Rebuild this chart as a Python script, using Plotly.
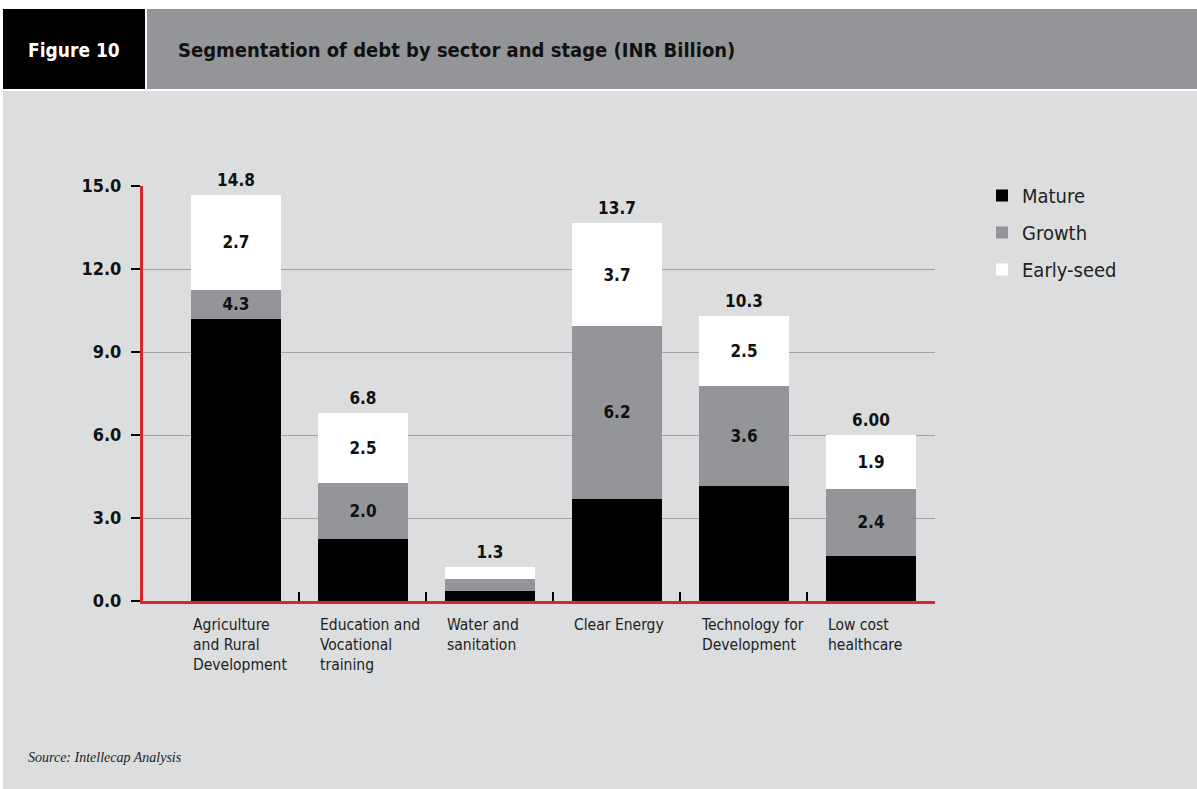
import plotly.graph_objects as go

# Data (INR Billion)
sectors = ["Agriculture<br>and Rural<br>Development", "Education and<br>Vocational<br>training",
           "Water and<br>sanitation", "Clear Energy", "Technology for<br>Development",
           "Low cost<br>healthcare"]
mature = [10.2, 2.24, 0.36, 3.69, 4.16, 1.63]
growth = [1.05, 2.02, 0.44, 6.25, 3.61, 2.42]
early_seed = [3.43, 2.53, 0.43, 3.72, 2.53, 1.95]

# Labels as printed on the chart
growth_labels = ["4.3", "2.0", "", "6.2", "3.6", "2.4"]
early_labels = ["2.7", "2.5", "", "3.7", "2.5", "1.9"]
total_labels = ["14.8", "6.8", "1.3", "13.7", "10.3", "6.00"]

y_ticks = [0, 3, 6, 9, 12, 15]

FONT = "DejaVu Sans Condensed, Liberation Sans Narrow, Roboto, sans-serif"
BG = "#dcdddf"
HEADER_GRAY = "#939598"
GROWTH_GRAY = "#939598"

W, H = 1197, 789
L, R, T, B = 143, 262, 186, 188
pw, ph = W - L - R, H - T - B


def px(x):
    return (x - L) / pw


def py(y):
    return (H - B - y) / ph


xs = list(range(len(sectors)))
bar_w = 0.709

fig = go.Figure()

fig.add_trace(go.Bar(x=xs, y=mature, width=bar_w, name="Mature",
                     marker=dict(color="#000000", line=dict(width=0)),
                     legendgroup="m"))
fig.add_trace(go.Bar(x=xs, y=growth, width=bar_w, name="Growth",
                     marker=dict(color=GROWTH_GRAY, line=dict(width=0)),
                     text=growth_labels, textposition="inside", insidetextanchor="middle",
                     textfont=dict(family=FONT, size=17, color="#111111", weight="bold"),
                     legendgroup="g"))
fig.add_trace(go.Bar(x=xs, y=early_seed, width=bar_w, name="Early-seed",
                     marker=dict(color="#ffffff", line=dict(width=0)),
                     text=early_labels, textposition="inside", insidetextanchor="middle",
                     textfont=dict(family=FONT, size=17, color="#111111", weight="bold"),
                     legendgroup="e"))

totals = [m + g + e for m, g, e in zip(mature, growth, early_seed)]
fig.add_trace(go.Scatter(x=xs, y=totals, mode="markers+text", text=total_labels,
                         textposition="top center", showlegend=False,
                         marker=dict(size=6, color="rgba(0,0,0,0)"),
                         hoverinfo="skip",
                         textfont=dict(family=FONT, size=17, color="#111111", weight="bold"),
                         cliponaxis=False))

# category labels, left aligned under each bar
for i, lab in enumerate(sectors):
    fig.add_annotation(x=i - bar_w / 2, y=0, xref="x", yref="y", text=lab,
                       xanchor="left", yanchor="top", align="left", showarrow=False,
                       yshift=-13, font=dict(family=FONT, size=15.5, color="#222222"))

shapes = [
    dict(type="rect", xref="paper", yref="paper", x0=px(0), x1=px(W), y0=py(0), y1=py(91),
         fillcolor="#ffffff", line=dict(width=0), layer="below"),
    dict(type="rect", xref="paper", yref="paper", x0=px(0), x1=px(3), y0=py(0), y1=py(H),
         fillcolor="#ffffff", line=dict(width=0), layer="below"),
    dict(type="rect", xref="paper", yref="paper", x0=px(3), x1=px(145), y0=py(9), y1=py(89),
         fillcolor="#000000", line=dict(width=0), layer="below"),
    dict(type="rect", xref="paper", yref="paper", x0=px(147), x1=px(W), y0=py(9), y1=py(89),
         fillcolor=HEADER_GRAY, line=dict(width=0), layer="below"),
]

fig.add_annotation(xref="paper", yref="paper", x=px(74), y=py(50), text="<b>Figure 10</b>",
                   showarrow=False, xanchor="center", yanchor="middle",
                   font=dict(family=FONT, size=19, color="#ffffff"))
fig.add_annotation(xref="paper", yref="paper", x=px(176), y=py(50),
                   text="<b>Segmentation of debt by sector and stage (INR Billion)</b>",
                   showarrow=False, xanchor="left", yanchor="middle",
                   font=dict(family=FONT, size=20, color="#111111"))
fig.add_annotation(xref="paper", yref="paper", x=px(26), y=py(757),
                   text="<i>Source: Intellecap Analysis</i>",
                   showarrow=False, xanchor="left", yanchor="middle",
                   font=dict(family="Liberation Serif, serif", size=14, color="#222222"))

fig.update_layout(
    width=W, height=H,
    barmode="stack", bargap=0.29,
    paper_bgcolor=BG, plot_bgcolor=BG,
    margin=dict(l=L, r=R, t=T, b=B, pad=0),
    shapes=shapes,
    showlegend=True,
    legend=dict(x=px(982), y=py(176), xanchor="left", yanchor="top",
                bgcolor="rgba(0,0,0,0)", tracegroupgap=8, traceorder="grouped",
                font=dict(family=FONT, size=20, color="#222222")),
    xaxis=dict(range=[-0.732, 5.504], tickvals=[0.5, 1.5, 2.5, 3.5, 4.5],
               showticklabels=False, ticks="inside", ticklen=9, tickwidth=2,
               tickcolor="#000000", showgrid=False, zeroline=False,
               showline=True, linecolor="#d7262e", linewidth=3),
    yaxis=dict(range=[0, 15], tickvals=y_ticks,
               ticktext=[f"<b>{v:.1f}</b>" for v in y_ticks],
               ticks="outside", ticklen=9, tickwidth=2, tickcolor="#000000",
               ticklabelstandoff=6,
               tickfont=dict(family=FONT, size=18, color="#111111"),
               showgrid=True, gridcolor="#a3a3a3", gridwidth=1, zeroline=False,
               showline=True, linecolor="#d7262e", linewidth=3),
)

fig.write_html("out.html", config={"displayModeBar": False},
               post_script="document.body.style.margin='0';document.body.style.overflow='hidden';")
